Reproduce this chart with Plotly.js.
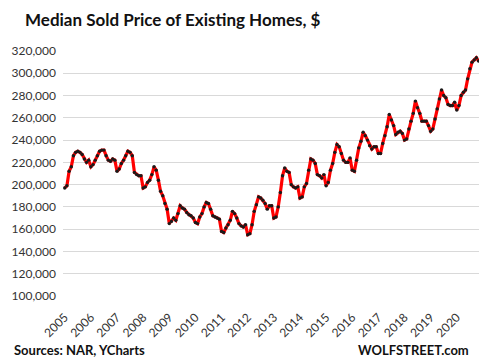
<!DOCTYPE html>
<html>
<head>
<meta charset="utf-8">
<script src="https://cdn.plot.ly/plotly-3.0.1.min.js"></script>
<style>
html,body{margin:0;padding:0;background:#fff;}
#chart{width:488px;height:364px;}
</style>
</head>
<body>
<div id="chart"></div>
<script>
// Year labels on the x axis
var years = [2005, 2006, 2007, 2008, 2009, 2010, 2011, 2012, 2013, 2014, 2015, 2016, 2017, 2018, 2019, 2020];
var monthNames = ["01","02","03","04","05","06","07","08","09","10","11","12"];

// Monthly median sold price of existing homes, $ (Jan 2005 - Nov 2020)
var p2005 = [197000, 199000, 212000, 216000, 226000, 229000, 230000, 229000, 227000, 223000, 220000, 222000];
var p2006 = [216000, 218000, 222000, 226000, 230000, 231000, 231000, 226000, 222000, 221000, 223000, 222000];
var p2007 = [212000, 214000, 219000, 222000, 226000, 230000, 229000, 226000, 211000, 209000, 208000, 208000];
var p2008 = [197000, 198000, 202000, 204000, 209000, 216000, 213000, 204000, 194000, 190000, 183000, 178000];
var p2009 = [165000, 167000, 170000, 168000, 174000, 181000, 179000, 178000, 175000, 173000, 172000, 170000];
var p2010 = [166000, 165000, 171000, 174000, 180000, 184000, 183000, 178000, 172000, 171000, 170000, 169000];
var p2011 = [158000, 157000, 161000, 164000, 168000, 176000, 174000, 170000, 165000, 163000, 162000, 164000];
var p2012 = [155000, 156000, 164000, 176000, 182000, 189000, 188000, 186000, 183000, 178000, 181000, 181000];
var p2013 = [170000, 171000, 180000, 193000, 208000, 215000, 212000, 211000, 200000, 198000, 197000, 198000];
var p2014 = [188000, 189000, 198000, 201000, 213000, 223000, 222000, 219000, 209000, 208000, 206000, 209000];
var p2015 = [199000, 202000, 213000, 219000, 229000, 236000, 234000, 228000, 222000, 220000, 220000, 224000];
var p2016 = [213000, 212000, 222000, 233000, 239000, 247000, 244000, 240000, 235000, 232000, 234000, 234000];
var p2017 = [228000, 228000, 237000, 244000, 252000, 263000, 258000, 253000, 245000, 247000, 248000, 246000];
var p2018 = [240000, 241000, 250000, 257000, 264000, 275000, 269000, 264000, 257000, 257000, 257000, 253000];
var p2019 = [248000, 250000, 259000, 268000, 277000, 285000, 280000, 278000, 272000, 271000, 271000, 274000];
var p2020 = [267000, 271000, 280000, 283000, 285000, 295000, 304000, 310000, 312000, 314000, 311000];

var yearly = [p2005, p2006, p2007, p2008, p2009, p2010, p2011, p2012, p2013, p2014, p2015, p2016, p2017, p2018, p2019, p2020];

var xs = [], ys = [];
for (var i = 0; i < years.length; i++) {
  for (var m = 0; m < yearly[i].length; m++) {
    xs.push(years[i] + "-" + monthNames[m]);
    ys.push(yearly[i][m]);
  }
}
var tickVals = years.map(function (y) { return y + "-01"; });
var tickText = years.map(function (y) { return String(y); });

var yTicks = [100000, 120000, 140000, 160000, 180000, 200000, 220000, 240000, 260000, 280000, 300000, 320000];

var trace = {
  x: xs, y: ys, type: "scatter", mode: "lines+markers",
  line: {color: "#ff0000", width: 3.2},
  marker: {color: "#1a1a1a", size: 3.4},
  hoverinfo: "skip"
};

var layout = {
  width: 488, height: 364,
  margin: {l: 63, r: 9, t: 51, b: 68},
  paper_bgcolor: "#ffffff", plot_bgcolor: "#ffffff",
  showlegend: false,
  font: {family: "Lato, 'DejaVu Sans', sans-serif", size: 12, color: "#333333"},
  xaxis: {
    type: "category",
    range: [-0.8, xs.length - 0.8],
    tickmode: "array", tickvals: tickVals, ticktext: tickText,
    tickangle: -45, showgrid: false, zeroline: false, showline: false,
    ticks: "", ticklabelstandoff: 11,
    tickfont: {family: "Lato, sans-serif", size: 12, color: "#333333"}
  },
  yaxis: {
    range: [100000, 320000],
    tickmode: "array", tickvals: yTicks,
    tickformat: ",d",
    showgrid: true, gridcolor: "#d9d9d9", gridwidth: 1,
    zeroline: false, showline: false, ticks: "",
    ticklabelstandoff: 6,
    tickfont: {family: "Lato, sans-serif", size: 12, color: "#333333"}
  },
  title: {
    text: "<b>Median Sold Price of Existing Homes, $</b>",
    x: 25 / 488, xref: "container", xanchor: "left",
    y: 1 - 20 / 364, yref: "container", yanchor: "middle",
    font: {family: "Lato, sans-serif", size: 17, color: "#111111"}
  },
  annotations: [
    {text: "<b>Sources: NAR, YCharts</b>", xref: "paper", yref: "paper",
     x: -0.123, y: -0.222, xanchor: "left", yanchor: "middle", showarrow: false,
     font: {family: "Lato, sans-serif", size: 13, color: "#111111"}},
    {text: "<b>WOLFSTREET.com</b>", xref: "paper", yref: "paper",
     x: 0.98, y: -0.222, xanchor: "right", yanchor: "middle", showarrow: false,
     font: {family: "Lato, sans-serif", size: 13, color: "#111111"}}
  ]
};

Plotly.newPlot("chart", [trace], layout, {displayModeBar: false, staticPlot: true});
</script>
</body>
</html>
